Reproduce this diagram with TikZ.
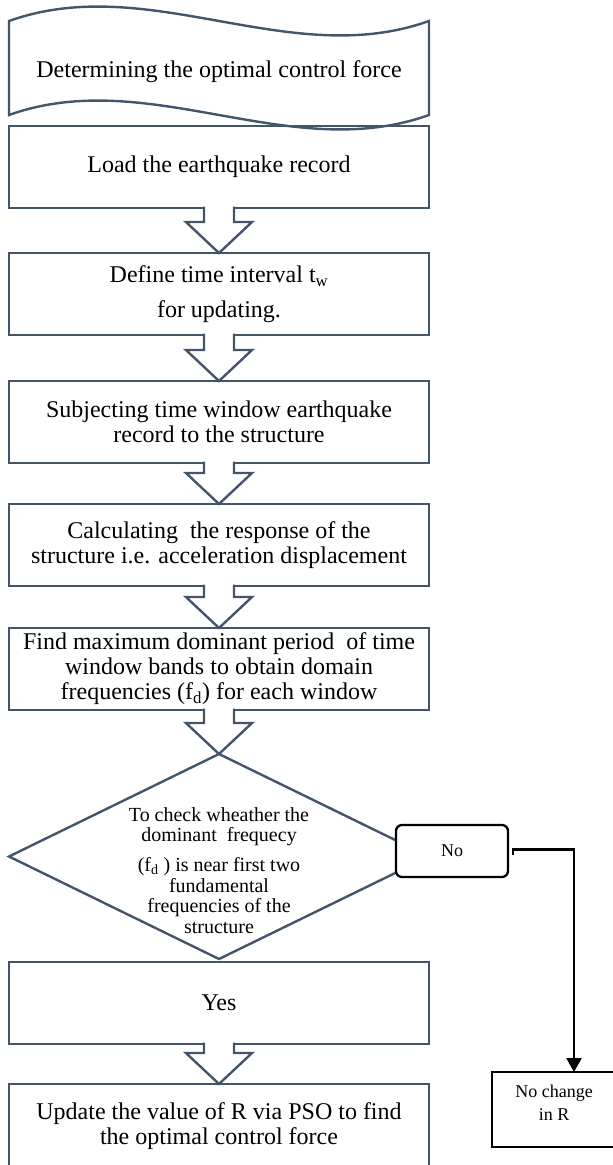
\documentclass[tikz,border=0pt]{standalone}
\usepackage{fontspec}
\setmainfont{Liberation Serif}
\usepackage{tikz}
\usetikzlibrary{arrows.meta, positioning, shapes.geometric, calc}
\definecolor{slate}{HTML}{44546A}

\newcommand{\blockarrow}[2]{%
  \path[barrow] ($(#1.south)+(-15,-1.5)$) -- ($(#2.north)+(-15,-31)$) -- ($(#2.north)+(-33,-31)$)
    -- (#2.north) -- ($(#2.north)+(33,-31)$) -- ($(#2.north)+(15,-31)$) -- ($(#1.south)+(15,-1.5)$);}

\begin{document}
\begin{tikzpicture}[x=1pt, y=-1pt, node distance=43pt,
    box/.style = {draw=slate, line width=2.4pt, outer sep=0pt, minimum width=420pt, minimum height=82pt, align=center, font=\fontsize{24}{25}\selectfont},
    decision/.style = {draw=slate, line width=2.4pt, outer sep=0pt, diamond, minimum width=420pt, minimum height=205pt, inner sep=0pt},
    barrow/.style = {draw=slate, line width=2.4pt, fill=white, line join=miter},
    answer/.style = {draw, fill=white, line width=2.3pt, outer sep=0pt, rounded corners=6pt, minimum width=112pt, minimum height=52pt, font=\fontsize{18}{22}\selectfont},
    result/.style = {draw, line width=1.3pt, outer sep=0pt, minimum width=124pt, minimum height=75pt, text depth=14pt, align=center, font=\fontsize{18}{23}\selectfont}]
    \useasboundingbox (0,0) rectangle (613,1165);

    \node[font=\fontsize{24}{25}\selectfont] (title) at (219,72) {Determining the optimal control force};
    \draw[slate, line width=2.4pt] (9,21) .. controls (149,-29) and (289,71) .. (429,21) -- (429,115)
        .. controls (289,165) and (149,65) .. (9,115) -- cycle;

    \node[box] (load) at (219,167) {Load the earthquake record};
    \node[box] (define) [below=45pt of load] {Define time interval t\textsubscript{w}\\[10pt]for updating.};
    \node[box] (subject) [below=46pt of define] {Subjecting time window earthquake\\record to the structure};
    \node[box] (response) [below=41pt of subject] {Calculating\ \ the response of the\\structure i.e. acceleration displacement};
    \node[box] (find) [below=42pt of response] {Find maximum dominant period\ \ of time\\window bands to obtain domain\\frequencies (f\textsubscript{d}) for each window};
    \node[decision] (dia) [below=44pt of find] {};
    \node[align=center, font=\fontsize{20}{20.5}\selectfont] (check) at ($(dia.center)+(0,14)$)
        {To check wheather the\\dominant\ \ frequecy\\[9.5pt](f\textsubscript{d} ) is near first two\\fundamental\\frequencies of the\\structure};
    \node[box] (yes) [below=3pt of dia] {Yes};
    \node[box, minimum height=84pt] (update) [below=40pt of yes] {Update the value of R via PSO to find\\the optimal control force};

    \node[answer] (no) at (452,851) {No};
    \node[result] (nochange) at (554,1109.5) {No change\\in R};

    \blockarrow{load}{define}
    \blockarrow{define}{subject}
    \blockarrow{subject}{response}
    \blockarrow{response}{find}
    \blockarrow{find}{dia}
    \blockarrow{yes}{update}

    \coordinate (bend) at (574,849.5);
    \draw[line width=2.6pt, -{Triangle[width=15pt, length=14pt]}] ($(no.east)+(5,4)$) |- (bend) -- (bend |- nochange.north);
\end{tikzpicture}
\end{document}
